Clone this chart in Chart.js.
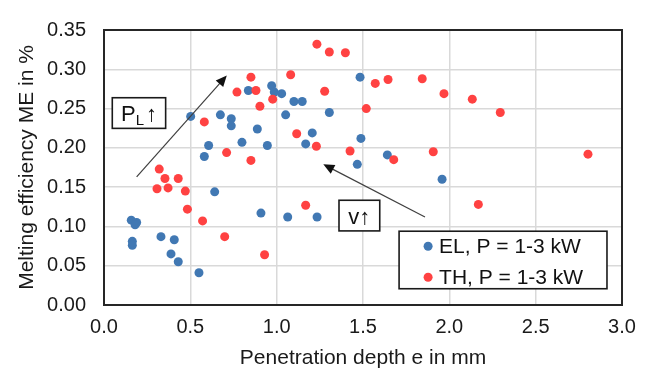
<!DOCTYPE html>
<html><head><meta charset="utf-8">
<script src="https://cdn.jsdelivr.net/npm/chart.js@4/dist/chart.umd.min.js"></script>
<style>html,body{margin:0;padding:0;background:#fff}#wrap{width:648px;height:374px}</style>
</head><body><div id="wrap"><canvas id="c" width="648" height="374"></canvas></div>
<script>
// ---- data ----
const seriesLabels = ['EL, P = 1-3 kW', 'TH, P = 1-3 kW'];
const elX = [0.971,0.836,0.986,1.029,0.502,0.674,0.737,0.737,0.888,0.606,0.799,0.946,0.581,0.641,0.909,0.158,0.189,0.180,0.164,0.164,0.330,0.407,0.388,0.430,0.550,1.483,1.100,1.148,1.052,1.305,1.206,1.168,1.488,1.641,1.467,1.958,1.064,1.234];
const elY = [0.279,0.273,0.271,0.269,0.240,0.242,0.237,0.228,0.224,0.203,0.207,0.203,0.189,0.144,0.117,0.108,0.105,0.102,0.081,0.076,0.087,0.083,0.065,0.055,0.041,0.290,0.259,0.259,0.242,0.245,0.219,0.205,0.212,0.191,0.179,0.160,0.112,0.112];
const thX = [0.851,0.770,0.880,0.977,0.903,0.581,0.710,0.851,0.320,0.353,0.430,0.307,0.371,0.471,0.483,0.571,0.699,0.930,1.233,1.305,1.398,1.081,1.571,1.645,1.843,1.969,1.278,1.519,1.116,1.230,1.425,1.907,1.678,1.168,2.168,2.803,2.133,2.295];
const thY = [0.290,0.271,0.273,0.262,0.253,0.233,0.194,0.184,0.173,0.161,0.161,0.148,0.149,0.145,0.122,0.107,0.087,0.064,0.332,0.322,0.321,0.293,0.282,0.287,0.288,0.269,0.272,0.250,0.218,0.202,0.196,0.195,0.185,0.127,0.128,0.192,0.262,0.245];
const xTickValues = [0, 0.5, 1.0, 1.5, 2.0, 2.5, 3.0];
const yTickValues = [0, 0.05, 0.10, 0.15, 0.20, 0.25, 0.30, 0.35];
const xTitle = 'Penetration depth e in mm';
const yTitle = 'Melting efficiency ME in %';

const toPts = (xs, ys) => xs.map((v, i) => ({x: v, y: ys[i]}));
const FONT = "'Liberation Sans', Arial, sans-serif";
const BLUE = '#4178b3', RED = '#ff4242';

const overlay = {
  id: 'overlay',
  afterDatasetsDraw(chart) {
    const {ctx, chartArea: a, scales: {x, y}} = chart;
    const px = v => x.getPixelForValue(v), py = v => y.getPixelForValue(v);
    ctx.save();
    // plot frame
    ctx.strokeStyle = '#262626'; ctx.lineWidth = 2;
    ctx.strokeRect(a.left, a.top, a.right - a.left, a.bottom - a.top);

    function arrow(x1, y1, x2, y2) {
      const X1 = px(x1), Y1 = py(y1), X2 = px(x2), Y2 = py(y2);
      const ang = Math.atan2(Y2 - Y1, X2 - X1), L = 11, W = 5;
      ctx.strokeStyle = '#404040'; ctx.lineWidth = 1.2;
      ctx.beginPath(); ctx.moveTo(X1, Y1);
      ctx.lineTo(X2 - Math.cos(ang) * L * 0.8, Y2 - Math.sin(ang) * L * 0.8); ctx.stroke();
      ctx.fillStyle = '#111';
      ctx.beginPath(); ctx.moveTo(X2, Y2);
      ctx.lineTo(X2 - Math.cos(ang) * L - Math.sin(ang) * W, Y2 - Math.sin(ang) * L + Math.cos(ang) * W);
      ctx.lineTo(X2 - Math.cos(ang) * L + Math.sin(ang) * W, Y2 - Math.sin(ang) * L - Math.cos(ang) * W);
      ctx.closePath(); ctx.fill();
    }
    arrow(0.189, 0.163, 0.711, 0.292);
    arrow(1.859, 0.112, 1.270, 0.179);

    function box(x1, y1, x2, y2) {
      const L = px(x1), T = py(y1), R = px(x2), B = py(y2);
      ctx.fillStyle = '#fff'; ctx.fillRect(L, T, R - L, B - T);
      ctx.strokeStyle = '#1a1a1a'; ctx.lineWidth = 1.6; ctx.strokeRect(L, T, R - L, B - T);
      ctx.fillStyle = '#111';
      return {L, T, R, B};
    }
    ctx.textBaseline = 'alphabetic'; ctx.textAlign = 'left';
    // P_L box
    let b = box(0.048, 0.2638, 0.357, 0.2248);
    ctx.font = '22px ' + FONT;
    const wP = ctx.measureText('P').width, wA = ctx.measureText('\u2191').width;
    ctx.font = '15px ' + FONT; const wL = ctx.measureText('L').width;
    let cx = (b.L + b.R) / 2 - (wP + wL + wA + 2) / 2, base = (b.T + b.B) / 2 + 8;
    ctx.font = '22px ' + FONT; ctx.fillText('P', cx, base);
    ctx.font = '15px ' + FONT; ctx.fillText('L', cx + wP, base + 4);
    ctx.font = '22px ' + FONT; ctx.fillText('\u2191', cx + wP + wL + 2, base);
    // v box
    b = box(1.361, 0.1333, 1.597, 0.0943);
    ctx.font = '22px ' + FONT;
    ctx.textAlign = 'center'; ctx.fillText('v\u2191', (b.L + b.R) / 2, (b.T + b.B) / 2 + 8);
    // legend
    b = box(1.709, 0.0939, 2.913, 0.0207);
    ctx.textAlign = 'left'; ctx.textBaseline = 'middle'; ctx.font = '21px ' + FONT;
    chart.data.datasets.forEach((ds, i) => {
      const yy = b.T + 15 + i * 31;
      ctx.fillStyle = ds.backgroundColor;
      ctx.beginPath(); ctx.arc(b.L + 29, yy, 4.5, 0, Math.PI * 2); ctx.fill();
      ctx.fillStyle = '#111'; ctx.fillText(ds.label, b.L + 40, yy + 1);
    });
    ctx.restore();
  }
};

new Chart(document.getElementById('c'), {
  type: 'scatter',
  data: {
    datasets: [
      {label: seriesLabels[0], data: toPts(elX, elY), backgroundColor: BLUE, borderWidth: 0, pointRadius: 4.5, order: 2},
      {label: seriesLabels[1], data: toPts(thX, thY), backgroundColor: RED, borderWidth: 0, pointRadius: 4.5, order: 1}
    ]
  },
  options: {
    responsive: false, animation: false,
    layout: {padding: {top: 18, right: 26, left: 0, bottom: 0}},
    plugins: {legend: {display: false}, tooltip: {enabled: false}},
    scales: {
      x: {
        type: 'linear', min: 0, max: 3,
        afterBuildTicks: s => { s.ticks = xTickValues.map(v => ({value: v})); },
        afterFit: s => { s.height = 69; },
        grid: {color: '#d9d9d9', lineWidth: 1.5, drawTicks: false},
        border: {display: false},
        ticks: {padding: 10, color: '#1a1a1a', font: {family: FONT, size: 20}, callback: v => Number(v).toFixed(1), maxRotation: 0},
        title: {display: true, text: xTitle, color: '#1a1a1a', font: {family: FONT, size: 21}, padding: {top: 0, bottom: 3}}
      },
      y: {
        type: 'linear', min: 0, max: 0.35,
        afterBuildTicks: s => { s.ticks = yTickValues.map(v => ({value: v})); },
        afterFit: s => { s.width = 104; },
        grid: {color: '#d9d9d9', lineWidth: 1.5, drawTicks: false},
        border: {display: false},
        ticks: {padding: 18, color: '#1a1a1a', font: {family: FONT, size: 20}, callback: v => Number(v).toFixed(2)},
        title: {display: true, text: yTitle, color: '#1a1a1a', font: {family: FONT, size: 21}, padding: {top: 15, bottom: 0}}
      }
    }
  },
  plugins: [overlay]
});
</script>
</body></html>
